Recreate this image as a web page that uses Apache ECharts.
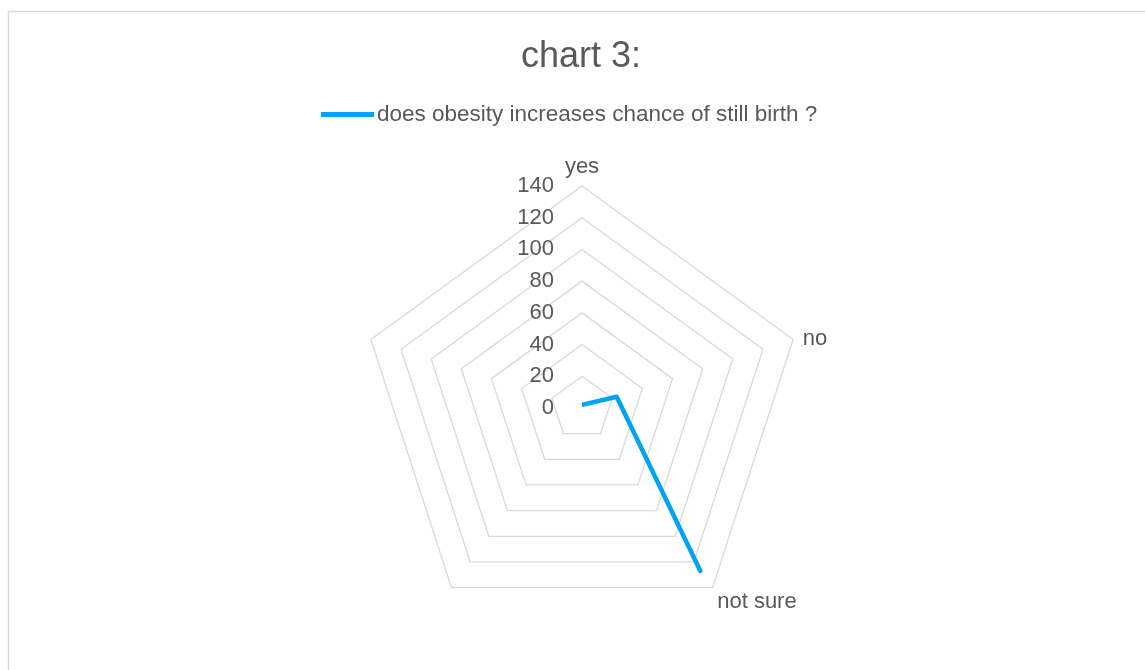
<!DOCTYPE html>
<html>
<head>
<meta charset="utf-8">
<script src="https://cdn.jsdelivr.net/npm/echarts@6/dist/echarts.min.js"></script>
<style>
html,body{margin:0;padding:0;background:#fff;}
#chart{width:1145px;height:670px;}
</style>
</head>
<body>
<div id="chart"></div>
<script>
const categories = ['yes', 'no', 'not sure', '', ''];
const seriesName = 'does obesity increases chance of still birth ?';
const values = [2, 23, 127, null, null];
const axisMax = 140;
const axisStep = 20;

const chart = echarts.init(document.getElementById('chart'));
const cx = 582, cy = 408, R = 222;
const textColor = '#595959';
const font = 'Liberation Sans, Arial, sans-serif';

// radar indicators run counter-clockwise; reorder so categories go clockwise
const radarOrder = [0].concat(categories.map((c, i) => i).slice(1).reverse());
// extra label offsets (padding) for some category names
const namePad = { 'no': [4, 0, 0, 2], 'not sure': [16, 0, 0, 0] };

chart.setOption({
  backgroundColor: '#ffffff',
  animation: false,
  graphic: [{
    type: 'rect', left: 6, top: 9,
    shape: { width: 1200, height: 700 },
    style: { fill: 'none', stroke: '#d9d9d9', lineWidth: 1.5 },
    silent: true
  }],
  title: {
    text: 'chart 3:',
    left: 516,
    top: 34,
    textStyle: { color: textColor, fontSize: 36, fontWeight: 'normal', fontFamily: font }
  },
  legend: {
    top: 98,
    left: 316,
    itemWidth: 53,
    itemHeight: 10,
    itemGap: 0,
    textStyle: { color: textColor, fontSize: 22.5, fontFamily: font, padding: [0, 0, 0, -2] },
    data: [{ name: seriesName, icon: 'path://M0,0 L53,0 L53,5 L0,5 Z' }]
  },
  radar: {
    center: [cx, cy],
    radius: R,
    startAngle: 90,
    shape: 'polygon',
    splitNumber: axisMax / axisStep,
    indicator: radarOrder.map((ci, i) => ({
      name: categories[ci], min: 0, max: axisMax,
      axisLabel: { show: i === 0 }
    })),
    axisName: {
      color: textColor, fontSize: 22, fontFamily: font,
      formatter: (n) => namePad[n] ? '{' + (n === 'no' ? 'a' : 'b') + '|' + n + '}' : n,
      rich: {
        a: { color: textColor, fontSize: 22, fontFamily: font, padding: namePad['no'] },
        b: { color: textColor, fontSize: 22, fontFamily: font, padding: namePad['not sure'] }
      }
    },
    nameGap: 8,
    axisLine: { show: false },
    axisTick: { show: false },
    axisLabel: { show: false, color: textColor, fontSize: 22, fontFamily: font, margin: 28 },
    splitLine: { lineStyle: { color: '#d9d9d9', width: 1.3 } },
    splitArea: { show: false }
  },
  polar: { center: [cx, cy], radius: R },
  angleAxis: {
    type: 'category', data: categories, startAngle: 90, boundaryGap: false, show: false,
    clockwise: true
  },
  radiusAxis: { type: 'value', min: 0, max: axisMax, interval: axisStep, show: false },
  series: [{
    name: seriesName,
    type: 'line',
    coordinateSystem: 'polar',
    data: values,
    symbol: 'none',
    connectNulls: false,
    itemStyle: { color: '#00a2f2' },
    lineStyle: { color: '#00a2f2', width: 4.5, cap: 'round', join: 'round' }
  }]
});
</script>
</body>
</html>
